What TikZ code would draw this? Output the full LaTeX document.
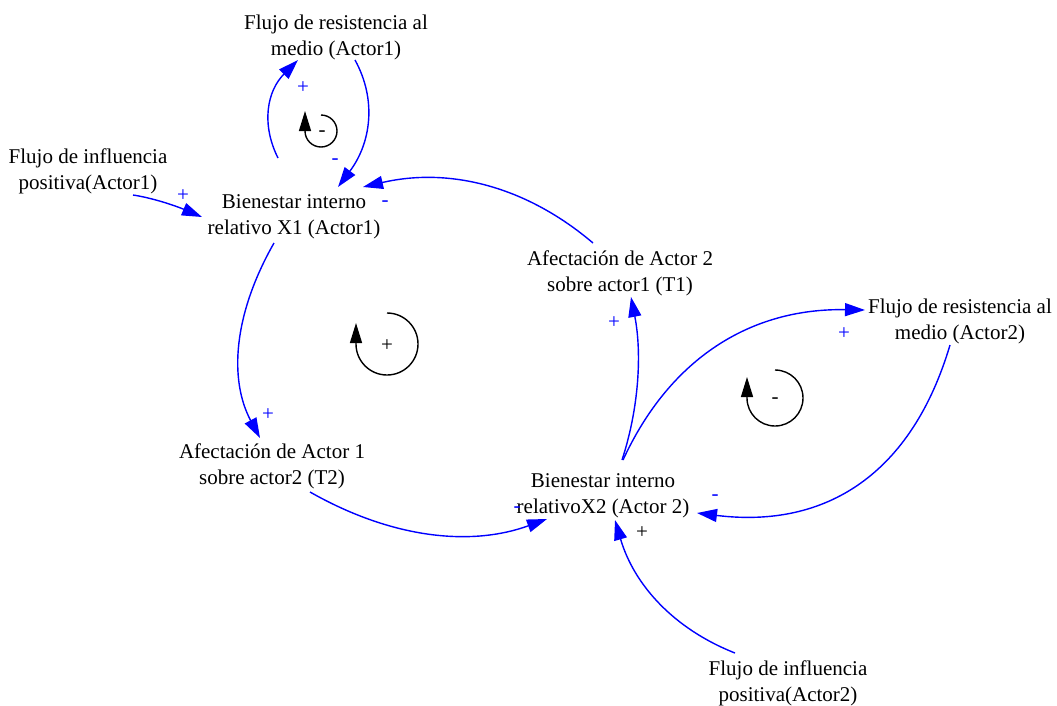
\documentclass[tikz,border=0pt]{standalone}
\usepackage{fontspec}
\setmainfont{Liberation Serif}
\usepackage{tikz}
\usetikzlibrary{arrows.meta}

\begin{document}
\begin{tikzpicture}[x=1pt, y=-1pt,
  var/.style={align=center, inner sep=0pt, font=\fontsize{21}{26}\selectfont},
  link/.style={blue, line width=1.4pt, -{Triangle[length=20pt,width=13pt]}},
  sgn/.style={inner sep=0pt, text=blue, font=\fontsize{21}{21}\selectfont},
  lp/.style={black, line width=1.4pt, -{Triangle[length=20pt,width=12pt]}}]

  \useasboundingbox (0,0) rectangle (1057,705);

  % ====== 1) 变量 ======
  \node[var] (R1) at (336,37)  {Flujo de resistencia al\\medio (Actor1)};
  \node[var] (F1) at (88,171)  {Flujo de influencia\\positiva(Actor1)};
  \node[var] (X1) at (294,217) {Bienestar interno\\relativo X1 (Actor1)};
  \node[var] (T1) at (620,273) {Afectación de Actor 2\\sobre actor1 (T1)};
  \node[var] (R2) at (960,321) {Flujo de resistencia al\\medio (Actor2)};
  \node[var] (T2) at (272,466) {Afectación de Actor 1\\sobre actor2 (T2)};
  \node[var] (X2) at (603,496) {Bienestar interno\\relativoX2 (Actor 2)};
  \node[var] (F2) at (788,683) {Flujo de influencia\\positiva(Actor2)};

  % ====== 2) 因果连线 ======
  \draw[link] ([shift={(-16,-59)}]X1.center) .. controls (261,124) and (267,91)  .. ([shift={(-38,23)}]R1.center);
  \draw[link] ([shift={(19,23)}]R1.center)   .. controls (377,100) and (371,143) .. ([shift={(44,-30)}]X1.center);
  \draw[link] ([shift={(45,24)}]F1.center)   .. controls (153,198) and (176,206) .. ([shift={(-92,0)}]X1.center);
  \draw[link] ([shift={(-27,-30)}]T1.center) .. controls (526,186) and (449,167) .. ([shift={(69,-30)}]X1.center);
  \draw[link] ([shift={(-20,26)}]X1.center)  .. controls (233,315) and (229,380) .. ([shift={(-12,-28)}]T2.center);
  \draw[link] ([shift={(38,26)}]T2.center)   .. controls (391,538) and (470,547) .. ([shift={(-56,23)}]X2.center);
  \draw[link] ([shift={(19,-36)}]X2.center)  .. controls (639,408) and (642,353) .. ([shift={(11,24)}]T1.center);
  \draw[link] ([shift={(20,-36)}]X2.center)  .. controls (670,358) and (751,308) .. ([shift={(-95,-11)}]R2.center);
  \draw[link] ([shift={(-10,24)}]R2.center)  .. controls (912,473) and (827,529) .. ([shift={(94,17)}]X2.center);
  \draw[link] ([shift={(-53,-30)}]F2.center) .. controls (674,629) and (634,585) .. ([shift={(12,24)}]X2.center);

  % ====== 3) 极性 ======
  \node[sgn] (s1)  at (303,88)  {+};
  \node[sgn] (s2)  at (335,162) {-};
  \node[sgn] (s3)  at (183,196) {+};
  \node[sgn] (s4)  at (385,204) {-};
  \node[sgn] (s5)  at (268,415) {+};
  \node[sgn] (s6)  at (517,510) {-};
  \node[sgn] (s7)  at (614,323) {+};
  \node[sgn] (s8)  at (844,334) {+};
  \node[sgn] (s9)  at (715,498) {-};
  \node[sgn, text=black] (s10) at (642,533) {+};

  % ====== 4) 回路标记 ======
  \coordinate (L1) at (321,131);
  \coordinate (L2) at (387,344);
  \coordinate (L3) at (775,398);
  \draw[lp] (L1) ++(-90:16) arc[start angle=-90, end angle=180, radius=16] -- ++(0,-20);
  \draw[lp] (L2) ++(-90:31) arc[start angle=-90, end angle=180, radius=31] -- ++(0,-21);
  \draw[lp] (L3) ++(-90:28) arc[start angle=-90, end angle=180, radius=28] -- ++(0,-21);
  \node[sgn, text=black] (l1) at ([shift={(1,3)}]L1) {-};
  \node[sgn, text=black] (l2) at ([shift={(0,2)}]L2) {+};
  \node[sgn, text=black] (l3) at ([shift={(0,3)}]L3) {-};

\end{tikzpicture}
\end{document}
